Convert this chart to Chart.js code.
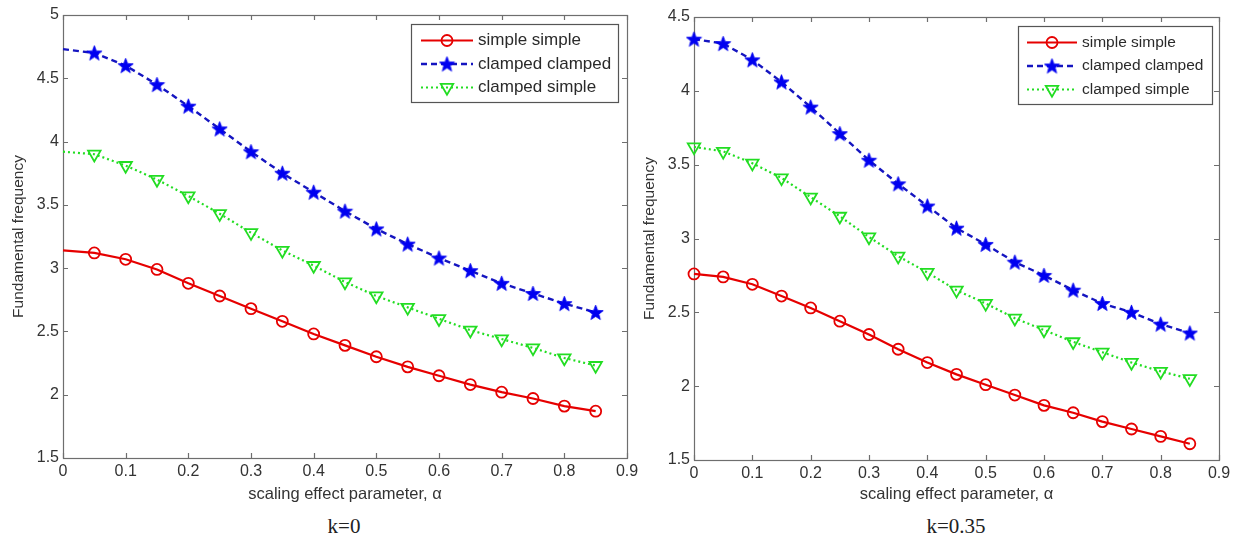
<!DOCTYPE html>
<html><head><meta charset="utf-8">
<script src="https://cdn.jsdelivr.net/npm/chart.js@4"></script>
<style>
html,body{margin:0;padding:0;background:#fff;width:1240px;height:548px;overflow:hidden;}
.wrap{position:absolute;top:0;height:510px;}
.cap{position:absolute;top:514px;font-family:"Liberation Serif","Times New Roman",serif;font-size:21px;color:#222;transform:translateX(-50%);white-space:nowrap;}
</style></head><body>
<div class="wrap" style="left:0;width:645px"><canvas id="c1"></canvas></div>
<div class="wrap" style="left:632px;width:608px"><canvas id="c2"></canvas></div>
<div class="cap" style="left:344px">k=0</div>
<div class="cap" style="left:956px">k=0.35</div>
<script>
// ---- data ----
const alpha = [0,0.05,0.1,0.15,0.2,0.25,0.3,0.35,0.4,0.45,0.5,0.55,0.6,0.65,0.7,0.75,0.8,0.85];
const seriesNames = ['simple simple','clamped clamped','clamped simple'];
const ssK0  = [3.14,3.12,3.07,2.99,2.88,2.78,2.68,2.58,2.48,2.39,2.30,2.22,2.15,2.08,2.02,1.97,1.91,1.87];
const ccK0  = [4.73,4.70,4.60,4.45,4.28,4.10,3.92,3.75,3.60,3.45,3.31,3.19,3.08,2.98,2.88,2.80,2.72,2.65];
const csK0  = [3.92,3.90,3.81,3.70,3.57,3.43,3.28,3.14,3.02,2.89,2.78,2.69,2.60,2.51,2.44,2.37,2.29,2.23];
const ssK35 = [2.76,2.74,2.69,2.61,2.53,2.44,2.35,2.25,2.16,2.08,2.01,1.94,1.87,1.82,1.76,1.71,1.66,1.61];
const ccK35 = [4.35,4.32,4.21,4.06,3.89,3.71,3.53,3.37,3.22,3.07,2.96,2.84,2.75,2.65,2.56,2.50,2.42,2.36];
const csK35 = [3.62,3.59,3.51,3.41,3.28,3.15,3.01,2.88,2.77,2.65,2.56,2.46,2.38,2.30,2.23,2.16,2.10,2.05];
const xTicks = [0,0.1,0.2,0.3,0.4,0.5,0.6,0.7,0.8,0.9];
const xTickLabels = ['0','0.1','0.2','0.3','0.4','0.5','0.6','0.7','0.8','0.9'];
const yTicksK0 = [1.5,2,2.5,3,3.5,4,4.5,5];
const yTickLabelsK0 = ['1.5','2','2.5','3','3.5','4','4.5','5'];
const yTicksK35 = [1.5,2,2.5,3,3.5,4,4.5];
const yTickLabelsK35 = ['1.5','2','2.5','3','3.5','4','4.5'];
const xTitle = 'scaling effect parameter, α';
const yTitle = 'Fundamental frequency';

// ---- styling ----
const FONT = '"Liberation Sans", Arial, sans-serif';
const RED = '#e60000', BLUE_LINE = '#1515c0', BLUE = '#0000f0', GREEN = '#22dd22';

function makeStar(color, size){
  const c = document.createElement('canvas'); c.width = c.height = size;
  const g = c.getContext('2d');
  const cx = size/2, cy = size/2 + 0.6, R = size/2 - 0.5, r = R*0.42;
  g.beginPath();
  for (let i=0;i<10;i++){ const a = -Math.PI/2 + i*Math.PI/5; const rr = i%2 ? r : R; g.lineTo(cx+rr*Math.cos(a), cy+rr*Math.sin(a)); }
  g.closePath(); g.fillStyle = color; g.fill();
  g.lineWidth = 0.8; g.strokeStyle = color; g.stroke();
  return c;
}
const starImg = makeStar(BLUE, 17);

function pts(ys){ return alpha.map((x,i)=>({x:x, y:ys[i]})); }

function makeDatasets(ss, cc, cs, hideFirst){
  const rad = (r)=> (ctx)=> (hideFirst && ctx.dataIndex===0) ? 0 : r;
  return [
    {label:seriesNames[0], data:pts(ss), borderColor:RED, borderWidth:2.2, pointStyle:'circle',
     pointRadius:rad(5.5), pointBorderColor:RED, pointBackgroundColor:'rgba(0,0,0,0)', pointBorderWidth:1.8, clip:false},
    {label:seriesNames[1], data:pts(cc), borderColor:BLUE_LINE, borderWidth:2.4, borderDash:[6,4], pointStyle:starImg,
     pointRadius:rad(8), pointBorderColor:BLUE, pointBackgroundColor:BLUE, clip:false},
    {label:seriesNames[2], data:pts(cs), borderColor:GREEN, borderWidth:2.2, borderDash:[2,3], pointStyle:'triangle', pointRotation:180,
     pointRadius:rad(7.2), pointBorderColor:GREEN, pointBackgroundColor:'rgba(0,0,0,0)', pointBorderWidth:1.8, clip:false}
  ];
}

const frameTicks = {
  id:'frameTicks',
  beforeDatasetsDraw(chart){
    const {ctx, chartArea:a, scales:{x, y}} = chart;
    ctx.save();
    ctx.strokeStyle = '#6e6e6e'; ctx.lineWidth = 1.2;
    ctx.strokeRect(Math.round(a.left)+0.5, Math.round(a.top)+0.5, Math.round(a.right-a.left), Math.round(a.bottom-a.top));
    ctx.beginPath();
    x.ticks.forEach(t=>{
      const px = Math.round(x.getPixelForValue(t.value))+0.5;
      ctx.moveTo(px, a.bottom); ctx.lineTo(px, a.bottom-5);
      ctx.moveTo(px, a.top); ctx.lineTo(px, a.top+5);
    });
    y.ticks.forEach(t=>{
      const py = Math.round(y.getPixelForValue(t.value))+0.5;
      ctx.moveTo(a.left, py); ctx.lineTo(a.left+5, py);
      ctx.moveTo(a.right, py); ctx.lineTo(a.right-5, py);
    });
    ctx.stroke();
    ctx.restore();
  }
};

function drawMarker(ctx, ds, x, y){
  ctx.save();
  ctx.lineWidth = ds.pointBorderWidth || 1.5;
  ctx.strokeStyle = ds.pointBorderColor;
  if (ds.pointStyle === 'circle'){
    ctx.beginPath(); ctx.arc(x, y, 5.5, 0, Math.PI*2); ctx.stroke();
  } else if (ds.pointStyle === 'triangle'){
    const r = 7.2;
    ctx.beginPath();
    ctx.moveTo(x, y + r);
    ctx.lineTo(x - r*0.866, y - r*0.5);
    ctx.lineTo(x + r*0.866, y - r*0.5);
    ctx.closePath(); ctx.stroke();
  } else {
    ctx.drawImage(ds.pointStyle, x - ds.pointStyle.width/2, y - ds.pointStyle.height/2);
  }
  ctx.restore();
}

const boxLegend = {
  id:'boxLegend',
  afterDraw(chart, args, opts){
    const {ctx} = chart;
    const b = opts.box;
    ctx.save();
    ctx.fillStyle = '#fff'; ctx.fillRect(b.x, b.y, b.w, b.h);
    ctx.strokeStyle = '#555'; ctx.lineWidth = 1.2;
    ctx.strokeRect(b.x+0.5, b.y+0.5, b.w, b.h);
    chart.data.datasets.forEach((ds, i)=>{
      const yy = b.y + 16.5 + i*23.5;
      ctx.save();
      ctx.strokeStyle = ds.borderColor; ctx.lineWidth = ds.borderWidth;
      ctx.setLineDash(ds.borderDash || []);
      ctx.beginPath(); ctx.moveTo(b.x + opts.lineStart, yy); ctx.lineTo(b.x + opts.lineEnd, yy); ctx.stroke();
      ctx.restore();
      drawMarker(ctx, ds, b.x + (opts.lineStart+opts.lineEnd)/2, yy);
      ctx.fillStyle = '#2a2a2a'; ctx.font = opts.fontSize + 'px ' + FONT; ctx.textBaseline = 'middle'; ctx.textAlign = 'left';
      ctx.fillText(ds.label, b.x + opts.textStart, yy);
    });
    ctx.restore();
  }
};

function makeChart(id, ss, cc, cs, yMax, yTicks, yLabels, hideFirst, pad, xH, legendOpts){
  return new Chart(document.getElementById(id), {
    type:'line',
    data:{datasets:makeDatasets(ss, cc, cs, hideFirst)},
    plugins:[frameTicks, boxLegend],
    options:{
      responsive:true, maintainAspectRatio:false, animation:false,
      layout:{padding:pad},
      elements:{line:{tension:0}},
      plugins:{legend:{display:false}, tooltip:{enabled:false}, boxLegend:legendOpts},
      scales:{
        x:{type:'linear', min:0, max:0.9,
           afterBuildTicks:(s)=>{ s.ticks = xTicks.map(v=>({value:v})); },
           afterFit:(s)=>{ s.height = xH; },
           ticks:{callback:(v,i)=>xTickLabels[i], padding:4, color:'#333', font:{family:FONT, size:16}, maxRotation:0, autoSkip:false},
           grid:{display:false, drawTicks:false}, border:{display:false},
           title:{display:true, text:xTitle, color:'#333', font:{family:FONT, size:16.5}, padding:{top:0, bottom:3}}},
        y:{type:'linear', min:1.5, max:yMax,
           afterBuildTicks:(s)=>{ s.ticks = yTicks.map(v=>({value:v})); },
           afterFit:(s)=>{ s.width = 58; },
           ticks:{callback:(v,i)=>yLabels[i], padding:4, color:'#333', font:{family:FONT, size:16}, autoSkip:false},
           grid:{display:false, drawTicks:false}, border:{display:false},
           title:{display:true, text:yTitle, color:'#333', font:{family:FONT, size:15.5}, padding:{top:4, bottom:0}}}
      }
    }
  });
}

makeChart('c1', ssK0, ccK0, csK0, 5, yTicksK0, yTickLabelsK0, true,
  {left:5, right:18, top:15, bottom:3}, 49,
  {box:{x:411, y:24, w:207, h:78}, lineStart:10, lineEnd:62, textStart:67, fontSize:17});
makeChart('c2', ssK35, ccK35, csK35, 4.5, yTicksK35, yTickLabelsK35, false,
  {left:4, right:21, top:17, bottom:3}, 47,
  {box:{x:386, y:26, w:194, h:78}, lineStart:9, lineEnd:59, textStart:64, fontSize:15.5});
</script>
</body></html>
